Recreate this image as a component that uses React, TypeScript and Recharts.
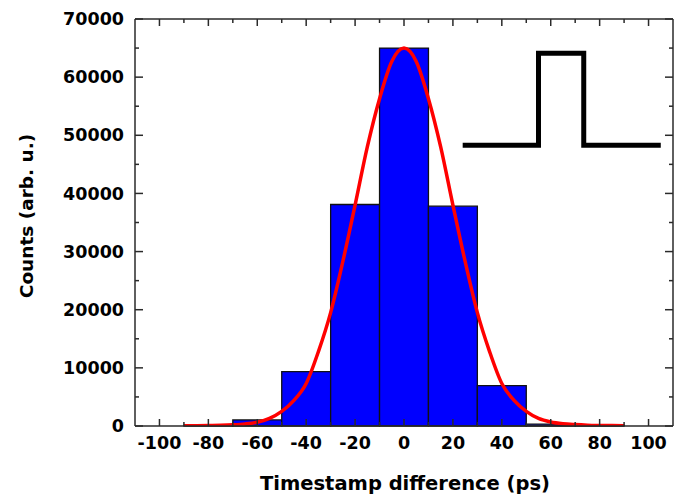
import React from 'react';
import { ComposedChart, XAxis, YAxis, Line, ReferenceArea } from 'recharts';

// Histogram bins (ps) and counts
const binCenters = [-80, -60, -40, -20, 0, 20, 40, 60, 80];
const binCounts = [120, 1050, 9350, 38100, 65000, 37800, 6950, 320, 100];
const binWidth = 20;

// Fitted curve
const fitX = [-90, -85, -80, -75, -70, -65, -60, -55, -50, -45, -40, -35, -30, -25, -20, -15, -10, -5, 0, 5, 10, 15, 20, 25, 30, 35, 40, 45, 50, 55, 60, 65, 70, 75, 80, 85, 90];
const fitY = [50, 60, 80, 120, 200, 350, 650, 1300, 2500, 4400, 7300, 12800, 19500, 28300, 38000, 48000, 56300, 62700, 65000, 62700, 56300, 48000, 38000, 28300, 19500, 12800, 7300, 4400, 2500, 1300, 700, 400, 250, 150, 100, 70, 50];

// Inset pulse shape
const pulseX = [24, 55, 55, 73.5, 73.5, 105];
const pulseY = [48300, 48300, 64100, 64100, 48300, 48300];

// Axis ticks (major + minor)
const xTicks = [-100, -90, -80, -70, -60, -50, -40, -30, -20, -10, 0, 10, 20, 30, 40, 50, 60, 70, 80, 90, 100];
const yTicks = [0, 5000, 10000, 15000, 20000, 25000, 30000, 35000, 40000, 45000, 50000, 55000, 60000, 65000, 70000];

const fitData = fitX.map((x, i) => ({ x, y: fitY[i] }));
const pulseData = pulseX.map((x, i) => ({ x, y: pulseY[i] }));

const FONT = '"DejaVu Sans", sans-serif';
const AXIS = '#2a2a2a';
const axisLineStyle = { stroke: AXIS, strokeWidth: 1.5 };

const isXMajor = (v: number) => v % 20 === 0;
const isYMajor = (v: number) => v % 10000 === 0;

const BottomTick = (props: any) => {
  const { x, y, payload } = props;
  const v = payload.value;
  const major = isXMajor(v);
  return (
    <g>
      <line x1={x} x2={x} y1={y} y2={y - (major ? 7 : 4)} stroke={AXIS} strokeWidth={1.5} />
      {major && (
        <text x={x} y={y + 17} dy="0.355em" textAnchor="middle" fontFamily={FONT} fontWeight="bold" fontSize={17.5} fill="#000">
          {String(v)}
        </text>
      )}
    </g>
  );
};

const TopTick = (props: any) => {
  const { x, y, payload } = props;
  const major = isXMajor(payload.value);
  return <line x1={x} x2={x} y1={y} y2={y + (major ? 7 : 4)} stroke={AXIS} strokeWidth={1.5} />;
};

const LeftTick = (props: any) => {
  const { x, y, payload } = props;
  const v = payload.value;
  const major = isYMajor(v);
  return (
    <g>
      <line x1={x} x2={x + (major ? 8 : 4)} y1={y} y2={y} stroke={AXIS} strokeWidth={1.5} />
      {major && (
        <text x={x - 11} y={y} dy="0.355em" textAnchor="end" fontFamily={FONT} fontWeight="bold" fontSize={17.5} fill="#000">
          {String(v)}
        </text>
      )}
    </g>
  );
};

const RightTick = (props: any) => {
  const { x, y, payload } = props;
  const major = isYMajor(payload.value);
  return <line x1={x} x2={x - (major ? 8 : 4)} y1={y} y2={y} stroke={AXIS} strokeWidth={1.5} />;
};

const xDomain: [number, number] = [-110, 110];
const yDomain: [number, number] = [0, 70000];

export default function App() {
  return (
    <div style={{ position: 'absolute', left: 0, top: 0, width: 674, height: 495, background: '#fff' }}>
      <ComposedChart width={674} height={495} margin={{ top: 18, right: 0, bottom: 0, left: 0 }}>
        {binCenters.map((c, i) => (
          <ReferenceArea
            key={c}
            x1={c - binWidth / 2}
            x2={c + binWidth / 2}
            y1={0}
            y2={binCounts[i]}
            fill="#0000FF"
            fillOpacity={1}
            stroke="#111"
            strokeWidth={1.3}
            ifOverflow="visible"
          />
        ))}
        <XAxis
          xAxisId={0}
          dataKey="x"
          type="number"
          domain={xDomain}
          ticks={xTicks}
          interval={0}
          tickSize={0}
          tickMargin={0}
          tickLine={false}
          height={69}
          axisLine={axisLineStyle}
          tick={(p: any) => <BottomTick {...p} />}
          allowDataOverflow
          label={{
            content: () => (
              <text x={405} y={483} dy="0.355em" textAnchor="middle" fontFamily={FONT} fontWeight="bold" fontSize={19.5} fill="#000">
                Timestamp difference (ps)
              </text>
            ),
          }}
        />
        <XAxis
          xAxisId="top"
          orientation="top"
          dataKey="x"
          type="number"
          domain={xDomain}
          ticks={xTicks}
          interval={0}
          tickSize={0}
          tickMargin={0}
          tickLine={false}
          height={1}
          axisLine={axisLineStyle}
          tick={(p: any) => <TopTick {...p} />}
          allowDataOverflow
        />
        <YAxis
          yAxisId={0}
          type="number"
          domain={yDomain}
          ticks={yTicks}
          interval={0}
          tickSize={0}
          tickMargin={0}
          tickLine={false}
          width={135}
          axisLine={axisLineStyle}
          tick={(p: any) => <LeftTick {...p} />}
          allowDataOverflow
          label={{
            content: () => (
              <text x={26} y={216} dy="0.355em" textAnchor="middle" transform="rotate(-90 26 216)" fontFamily={FONT} fontWeight="bold" fontSize={18.5} fill="#000">
                Counts (arb. u.)
              </text>
            ),
          }}
        />
        <YAxis
          yAxisId="right"
          orientation="right"
          type="number"
          domain={yDomain}
          ticks={yTicks}
          interval={0}
          tickSize={0}
          tickMargin={0}
          tickLine={false}
          width={1}
          axisLine={axisLineStyle}
          tick={(p: any) => <RightTick {...p} />}
          allowDataOverflow
        />
        <Line xAxisId={0} yAxisId={0} data={fitData} dataKey="y" type="monotone" stroke="#FF0000" strokeWidth={3.5} dot={false} activeDot={false} isAnimationActive={false} />
        <Line xAxisId="top" yAxisId="right" data={pulseData} dataKey="y" type="linear" stroke="#000" strokeWidth={5} strokeLinejoin="miter" strokeLinecap="butt" dot={false} activeDot={false} isAnimationActive={false} />
      </ComposedChart>
    </div>
  );
}
